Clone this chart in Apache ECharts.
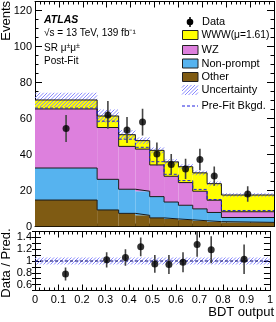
<!DOCTYPE html>
<html><head><meta charset="utf-8">
<script src="https://cdn.jsdelivr.net/npm/echarts@6/dist/echarts.min.js"></script>
<style>html,body{margin:0;padding:0;background:#fff}#c{width:276px;height:322px}</style>
</head><body><div id="c"></div>
<script>
// ---- data ----
const binEdges = [0, 0.26, 0.35, 0.42, 0.48, 0.54, 0.60, 0.66, 0.72, 0.78, 1.0];
const otherYield     = [14.7, 9.2, 7.3, 6.2, 4.8, 4.2, 3.7, 3.2, 2.7, 2.3];
const nonpromptYield = [17.8, 17.0, 13.4, 13.4, 11.8, 9.4, 8.1, 6.6, 5.1, 2.7];
const wzYield        = [32.8, 28.8, 23.8, 23.4, 17.6, 14.3, 12.6, 9.8, 6.8, 3.2];
const wwwYield       = [5.0, 6.4, 6.5, 4.7, 8.1, 8.0, 8.8, 10.2, 9.2, 9.3];
const totalUnc       = [4.0, 3.6, 2.6, 1.8, 1.6, 1.5, 1.4, 1.3, 1.2, 1.0];
const preFitBkgd     = [65.8, 58.5, 48.5, 44.0, 36.0, 29.0, 25.5, 20.6, 15.0, 8.9];
const dataX   = [0.13, 0.305, 0.385, 0.45, 0.51, 0.57, 0.63, 0.69, 0.75, 0.89];
const dataY   = [54.5, 62.0, 53.6, 58.0, 40.3, 34.5, 32.0, 37.2, 28.0, 18.0];
const dataErr = [7.5, 7.7, 7.2, 7.4, 6.3, 5.8, 5.6, 6.0, 5.4, 4.3];
const ratioY   = [0.78, 1.02, 1.06, 1.24, 0.95, 0.94, 0.98, 1.28, 1.19, 1.03];
const ratioErr = [0.11, 0.13, 0.14, 0.16, 0.15, 0.16, 0.17, 0.21, 0.23, 0.25];
const ratioUnc = [0.06, 0.06, 0.06, 0.06, 0.06, 0.06, 0.06, 0.06, 0.06, 0.06];
const xTicks = [0, 0.1, 0.2, 0.3, 0.4, 0.5, 0.6, 0.7, 0.8, 0.9, 1];
const ratioLabels = [0.6, 0.8, 1, 1.2, 1.4];

const FONT = 'Liberation Sans, Arial, sans-serif';
const colors = {other:'#7f5b13', np:'#56b3ef', wz:'#dd80dd', www:'#ffff00', line:'#1a1a1a', hatch:'#7c7cff', prefit:'#2020e0'};
const HSP = 3.5;

// diagonal hatch lines "/" clipped to a rectangle
function hatchLines(x0, y0, w, h) {
  const x1 = x0 + w, y1 = y0 + h, out = [];
  const cStart = Math.ceil((x0 + y0) / HSP) * HSP;
  for (let c = cStart; c <= x1 + y1; c += HSP) {
    const a = Math.max(x0, c - y1), b = Math.min(x1, c - y0);
    if (b > a) out.push({type:'line', shape:{x1:a, y1:c-a, x2:b, y2:c-b}, style:{stroke:colors.hatch, lineWidth:0.9}, silent:true});
  }
  return out;
}

// stacking
const nb = binEdges.length - 1;
const procs = [otherYield, nonpromptYield, wzYield, wwwYield];
const procColors = [colors.other, colors.np, colors.wz, colors.www];
const cum = [];
let base = new Array(nb).fill(0);
procs.forEach(p => { const t = base.map((b,i)=>b+p[i]); cum.push({lo: base, hi: t}); base = t; });
const total = base;

function rectSeries(lo, hi, fill, xi, yi, z) {
  const data = [];
  for (let i = 0; i < nb; i++) data.push([binEdges[i], binEdges[i+1], lo[i], hi[i]]);
  return {
    type:'custom', xAxisIndex: xi, yAxisIndex: yi, z: z, silent:true, clip:true,
    encode:{x:[0,1], y:[2,3]},
    renderItem: function(params, api){
      const a = api.coord([api.value(0), api.value(3)]);
      const b = api.coord([api.value(1), api.value(2)]);
      if (fill === 'hatch') return {type:'group', children: hatchLines(a[0], a[1], b[0]-a[0], b[1]-a[1])};
      return {type:'rect', shape:{x:a[0], y:a[1], width:b[0]-a[0], height:b[1]-a[1]}, style:{fill: fill}};
    },
    data: data
  };
}
function stepLine(tops, color, type, xi, yi, z) {
  const pts = binEdges.map((e,i)=>[e, tops[Math.min(i, nb-1)]]);
  return {type:'line', xAxisIndex:xi, yAxisIndex:yi, step:'end', symbol:'none', silent:true, z:z,
    lineStyle:{color:color, width:1, type:type}, data:pts};
}
function errSeries(xs, ys, es, xi, yi) {
  return {type:'custom', xAxisIndex:xi, yAxisIndex:yi, z:20, silent:true, clip:true,
    encode:{x:0, y:[1,2]},
    renderItem: function(params, api){
      const a = api.coord([api.value(0), api.value(1)]);
      const b = api.coord([api.value(0), api.value(2)]);
      return {type:'line', shape:{x1:a[0], y1:a[1], x2:b[0], y2:b[1]}, style:{stroke:'#444', lineWidth:1.6}};
    },
    data: xs.map((x,i)=>[x, ys[i]-es[i], ys[i]+es[i]])
  };
}

const series = [];
procs.forEach((p,k)=>series.push(rectSeries(cum[k].lo, cum[k].hi, procColors[k], 0, 0, 2)));
series.push(rectSeries(total.map((t,i)=>t-totalUnc[i]), total.map((t,i)=>t+totalUnc[i]), 'hatch', 0, 0, 3));
cum.forEach(c=>series.push(stepLine(c.hi, colors.line, 'solid', 0, 0, 4)));
series.push(stepLine(preFitBkgd, colors.prefit, [3,2], 0, 0, 5));
series.push(errSeries(dataX, dataY, dataErr, 0, 0));
series.push({type:'scatter', xAxisIndex:0, yAxisIndex:0, z:21, symbol:'circle', symbolSize:7, itemStyle:{color:'#000'}, silent:true,
  data: dataX.map((x,i)=>[x, dataY[i]])});
// ratio panel
series.push(rectSeries(ratioUnc.map(u=>1-u), ratioUnc.map(u=>1+u), 'hatch', 2, 2, 3));
series.push({type:'line', xAxisIndex:2, yAxisIndex:2, symbol:'none', silent:true, z:5,
  lineStyle:{color:'#000066', width:1, type:[3,2]}, data:[[binEdges[0],1],[binEdges[nb],1]]});
series.push(errSeries(dataX, ratioY, ratioErr, 2, 2));
series.push({type:'scatter', xAxisIndex:2, yAxisIndex:2, z:21, symbol:'circle', symbolSize:7, itemStyle:{color:'#000'}, silent:true,
  data: dataX.map((x,i)=>[x, ratioY[i]])});

const axLine = {show:true, onZero:false, lineStyle:{color:'#000', width:1}};
function xAx(gi, pos, labels) {
  return {type:'value', gridIndex:gi, position:pos, min:0, max:1, interval:0.1,
    axisLine:axLine, splitLine:{show:false},
    axisTick:{show:true, inside:true, length:6, lineStyle:{color:'#000'}},
    minorTick:{show:true, splitNumber:5, length:3, lineStyle:{color:'#000'}},
    axisLabel: labels ? {show:true, fontSize:11, color:'#000', fontFamily:FONT, margin:4,
      formatter: v => { const t = xTicks.find(k=>Math.abs(k-v)<1e-6); return t===undefined ? '' : String(t); }} : {show:false}};
}
function yMain(pos, labels) {
  return {type:'value', gridIndex:0, position:pos, min:0, max:125, interval:20,
    axisLine:axLine, splitLine:{show:false},
    axisTick:{show:true, inside:true, length:7, lineStyle:{color:'#000'}},
    minorTick:{show:true, splitNumber:4, length:3.5, lineStyle:{color:'#000'}},
    axisLabel: labels ? {show:true, fontSize:11, color:'#000', fontFamily:FONT, margin:3} : {show:false}};
}
function yRatio(pos, labels) {
  return {type:'value', gridIndex:1, position:pos, min:0.5, max:1.5, interval:0.1,
    axisLine:axLine, splitLine:{show:false},
    axisTick:{show:true, inside:true, length:6, lineStyle:{color:'#000'},
      interval: (idx, v) => ratioLabels.some(k=>Math.abs(k-Number(v))<1e-6)},
    axisLabel: labels ? {show:true, fontSize:11, color:'#000', fontFamily:FONT, margin:3,
      interval: (idx, v) => ratioLabels.some(k=>Math.abs(k-Number(v))<1e-6),
      formatter: v => { const t = ratioLabels.find(k=>Math.abs(k-v)<1e-6); return t===undefined ? '' : String(t); }} : {show:false}};
}
function yRatioMinor(pos) {
  return {type:'value', gridIndex:1, position:pos, min:0.5, max:1.5, interval:0.1,
    axisLine:{show:false}, splitLine:{show:false}, axisLabel:{show:false},
    axisTick:{show:true, inside:true, length:3, lineStyle:{color:'#000'}}};
}

const legendRows = [
  {y:35, fill:colors.www, text:'WWW(μ=1.61)', size:10.3},
  {y:50, fill:colors.wz, text:'WZ', size:11},
  {y:63.5, fill:colors.np, text:'Non-prompt', size:11},
  {y:77, fill:colors.other, text:'Other', size:11}
];
const graphics = [];
const tstyle = (t, x, y, size, extra) => Object.assign({type:'text', x:x, y:y, silent:true,
  style:Object.assign({text:t, font: size+'px '+FONT, fill:'#000', verticalAlign:'middle', align:'left'}, extra||{})});
graphics.push({type:'line', shape:{x1:190, y1:17, x2:190, y2:27}, style:{stroke:'#000', lineWidth:1.5}});
graphics.push({type:'circle', shape:{cx:190, cy:22, r:3.3}, style:{fill:'#000'}});
graphics.push(tstyle('Data', 202, 22, 11));
legendRows.forEach(r=>{
  graphics.push({type:'rect', shape:{x:182.5, y:r.y-4.5, width:15.5, height:9}, style:{fill:r.fill, stroke:'#222', lineWidth:1}});
  graphics.push(tstyle(r.text, 201.5, r.y, r.size));
});
graphics.push({type:'group', children: hatchLines(182, 85, 16, 10)});
graphics.push(tstyle('Uncertainty', 201.5, 90, 11));
graphics.push({type:'line', shape:{x1:182, y1:106, x2:198, y2:106}, style:{stroke:colors.prefit, lineWidth:1, lineDash:[3,2]}});
graphics.push(tstyle('Pre-Fit Bkgd.', 201.5, 106, 11));
// labels
graphics.push({type:'text', x:44, y:20, silent:true, style:{text:'ATLAS', font:'italic bold 10.5px '+FONT, fill:'#000', verticalAlign:'middle'}});
graphics.push(tstyle('√s = 13 TeV, 139 fb⁻¹', 44, 33, 10));
graphics.push({type:'text', x:44, y:48, silent:true, style:{text:'SR μ{s|±}μ{s|±}', font:'10px '+FONT, fill:'#000', verticalAlign:'middle',
  rich:{s:{fontSize:7, fontFamily:FONT, verticalAlign:'top', padding:[0,0,4,0]}}}});
graphics.push(tstyle('Post-Fit', 44, 61, 10));
graphics.push({type:'text', x:6, y:1, rotation:Math.PI/2, silent:true, style:{text:'Events', font:'13px '+FONT, fill:'#000', align:'right', verticalAlign:'middle'}});
graphics.push({type:'text', x:6, y:263, rotation:Math.PI/2, silent:true, style:{text:'Data / Pred.', font:'13px '+FONT, fill:'#000', align:'center', verticalAlign:'middle'}});
graphics.push({type:'text', x:274, y:312, silent:true, style:{text:'BDT output', font:'13px '+FONT, fill:'#000', align:'right', verticalAlign:'middle'}});

const chart = echarts.init(document.getElementById('c'), null, {renderer:'canvas'});
chart.setOption({
  animation:false,
  backgroundColor:'#fff',
  grid:[{left:35, top:1.5, width:239, height:225}, {left:35, top:231.5, width:239, height:59}],
  xAxis:[xAx(0,'bottom',false), xAx(0,'top',false), xAx(1,'bottom',true), xAx(1,'top',false)],
  yAxis:[yMain('left',true), yMain('right',false), yRatio('left',true), yRatio('right',false), yRatioMinor('left'), yRatioMinor('right')],
  series: series,
  graphic: graphics
});
</script></body></html>
